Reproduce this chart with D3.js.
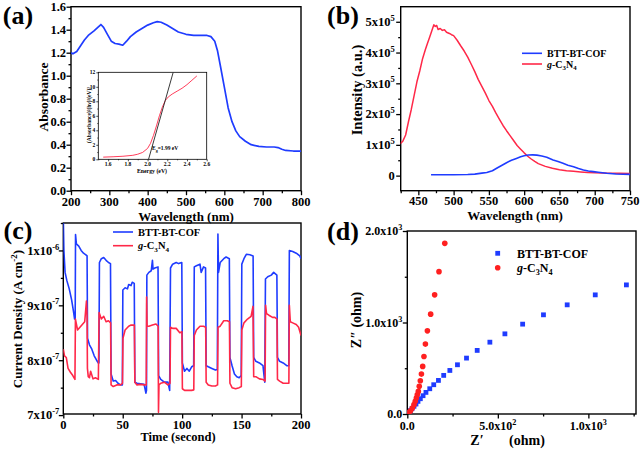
<!DOCTYPE html>
<html><head><meta charset="utf-8">
<script src="https://cdn.jsdelivr.net/npm/d3@7"></script>
<style>
body{margin:0;background:#fff}
svg{display:block}
text{font-family:"Liberation Serif","Times New Roman",serif;font-weight:bold;fill:#000}
</style>
</head><body>
<svg id="chart" width="640" height="449"></svg>
<script>
// ---------- DATA ----------
// (a) UV-vis absorbance
const absWl  = [200,205,215,225,235,245,260,270,278,285,295,305,315,325,335,345,355,370,385,400,415,425,435,450,465,480,500,520,540,555,565,575,582,590,600,610,620,630,640,655,670,690,710,730,740,750,760,780,800];
const absVal = [1.20,1.19,1.21,1.26,1.31,1.35,1.39,1.42,1.445,1.42,1.36,1.30,1.28,1.275,1.265,1.30,1.34,1.38,1.41,1.44,1.46,1.47,1.465,1.44,1.41,1.38,1.36,1.35,1.35,1.35,1.34,1.30,1.22,1.08,0.90,0.72,0.60,0.52,0.47,0.43,0.40,0.385,0.38,0.38,0.375,0.36,0.35,0.345,0.345];
// (a) inset Tauc plot
const taucE = [1.55,1.65,1.75,1.85,1.90,1.95,2.00,2.03,2.06,2.09,2.12,2.15,2.18,2.21,2.25,2.30,2.35,2.40,2.45,2.50];
const taucV = [0.3,0.35,0.42,0.55,0.7,0.95,1.5,2.2,3.3,4.6,6.0,7.2,8.1,8.6,9.0,9.4,9.8,10.3,10.9,11.5];
const taucFitE = [2.01,2.26];
const taucFitV = [0,12];
// (b) PL spectra (x10^5)
const plGWl  = [424,428,432,436,440,444,448,452,456,460,463,466,469,472,474,476,478,481,484,487,490,494,497,500,505,510,515,520,525,530,535,540,545,550,555,560,565,570,575,580,585,590,595,600,605,610,615,620,630,640,650,660,670,680,690,700,720,735,750];
const plGVal = [1.03,1.12,1.32,1.75,2.15,2.60,3.05,3.40,3.80,4.10,4.30,4.50,4.70,4.90,4.85,4.88,4.75,4.78,4.72,4.74,4.66,4.62,4.58,4.55,4.40,4.22,4.05,3.85,3.62,3.38,3.12,2.90,2.68,2.44,2.25,2.03,1.83,1.63,1.46,1.30,1.14,0.98,0.86,0.74,0.63,0.54,0.46,0.39,0.30,0.24,0.19,0.16,0.14,0.12,0.105,0.095,0.08,0.075,0.07];
const plBWl  = [468,480,500,520,530,540,547,555,561,568,575,582,589,595,600,606,612,618,625,632,641,648,655,662,670,677,684,691,698,705,717,730,740,750];
const plBVal = [0.03,0.03,0.03,0.035,0.05,0.08,0.10,0.16,0.24,0.33,0.42,0.50,0.56,0.61,0.645,0.67,0.675,0.665,0.64,0.60,0.51,0.46,0.40,0.34,0.29,0.23,0.18,0.15,0.13,0.11,0.076,0.055,0.045,0.04];
// (c) photocurrent (x10^-7 A cm^-2) : [time, value]
const itBlue = [[0,10.6],[0.5,10.0],[1.5,9.6],[3,9.45],[5,9.3],[7,9.1],[8.5,8.9],[9.5,8.75],[10,8.75],[10.3,10.29],[11,10.12],[13,10.08],[15,10.0],[17,9.95],[19,9.92],[20,9.9],[20.4,8.4],[22,8.28],[24,8.2],[26,8.08],[28,8.0],[29.5,7.95],[30,7.95],[30.4,9.78],[32,9.85],[34,9.87],[36,9.82],[38,9.78],[39.7,9.76],[40.2,7.75],[42,7.62],[44,7.63],[46,7.58],[48,7.55],[49.7,7.55],[50.1,9.28],[52,9.32],[54,9.3],[55,9.38],[57,9.36],[58,9.42],[59.7,9.4],[60.2,7.6],[62,7.58],[65,7.57],[68,7.56],[69.5,7.4],[70,7.45],[70.3,9.55],[72,9.6],[74,9.63],[75,9.82],[75.5,9.66],[77,9.68],[79.7,9.7],[80.2,7.72],[82,7.65],[85,7.6],[88,7.6],[89.5,7.45],[90.2,9.68],[92,9.75],[95,9.78],[97,9.76],[99.7,9.78],[100.2,7.95],[102,7.8],[104,7.85],[106,7.8],[108,7.88],[109.7,7.9],[110.2,9.7],[112,9.72],[115,9.75],[116,9.6],[118,9.7],[119.7,9.68],[120.2,7.9],[122,7.88],[125,7.85],[128,7.82],[129.6,7.83],[130.1,10.3],[130.6,9.6],[132,9.78],[135,9.85],[137,9.88],[139.7,9.85],[140.2,8.05],[142,7.9],[144,7.75],[146,7.7],[148,7.68],[149.7,7.72],[150.2,9.75],[152,9.85],[154,9.93],[157,9.92],[159.7,9.9],[160.2,8.05],[162,7.98],[165,7.95],[168,7.9],[169.5,7.6],[170.1,9.48],[172,9.52],[175,9.55],[177,9.6],[179.7,9.55],[180.2,8.05],[182,7.98],[185,7.95],[188,7.9],[189.7,7.9],[190.2,10.0],[193,9.98],[196,9.95],[199,9.9],[200,9.85]];
const itRed = [[0,8.2],[1,8.08],[2.5,8.05],[4,7.85],[6,7.78],[8,7.72],[9.8,7.65],[10.2,8.75],[12,8.55],[14,8.6],[16,8.65],[18,8.7],[19.5,9.08],[20,8.8],[20.3,7.85],[21,7.7],[22,7.68],[23,7.8],[25,7.66],[27,7.68],[29.5,7.65],[30.1,8.87],[32,8.75],[34,8.8],[36,8.7],[38,8.72],[39.8,8.68],[40.2,7.55],[42,7.52],[45,7.55],[48,7.55],[49.8,7.58],[50.2,8.4],[52,8.55],[55,8.62],[57,8.64],[59.8,8.64],[60.2,7.6],[62,7.55],[65,7.56],[68,7.55],[69.8,7.55],[70.1,9.15],[70.5,8.62],[72,8.62],[75,8.64],[78,8.66],[79.8,8.62],[80.1,7.05],[80.5,7.55],[82,7.58],[85,7.6],[88,7.55],[89.8,7.58],[90.2,8.6],[92,8.58],[95,8.58],[98,8.5],[99.8,8.52],[100.2,7.48],[102,7.45],[105,7.45],[108,7.45],[109.8,7.46],[110.2,8.45],[112,8.55],[115,8.62],[118,8.62],[119.8,8.6],[120.2,7.6],[122,7.55],[125,7.53],[128,7.53],[129.8,7.55],[130.2,8.6],[132,8.62],[135,8.72],[138,8.72],[139.8,8.7],[140.2,7.58],[142,7.5],[145,7.48],[148,7.5],[149.8,7.52],[150.2,8.55],[152,8.68],[155,8.75],[158,8.8],[159.6,8.98],[160.2,7.7],[162,7.7],[165,7.66],[168,7.65],[169.8,7.62],[170.2,9.0],[171,8.85],[173,8.82],[176,8.78],[178,8.78],[179.8,8.75],[180.2,7.65],[182,7.62],[185,7.58],[188,7.58],[189.8,7.58],[190.2,9.0],[191,8.7],[193,8.68],[196,8.65],[198,8.6],[200,8.45]];
// (d) Nyquist plot (ohm)
const nyBlueX = [4,9,17,26,37,48,59,72,87,103,124,146,172,201,235,277,327,386,456,539,637,752,883,1038,1210];
const nyBlueY = [7,18,36,58,84,109,138,167,200,236,276,320,367,422,476,538,611,695,785,876,982,1084,1193,1302,1411];
const nyRedX  = [4,9,18,28,37,44,50,55,61,66,72,78,85,92,100,111,129,151,175,207];
const nyRedY  = [7,18,36,65,102,138,175,211,247,302,364,436,520,629,764,909,1091,1302,1556,1865];
// tick values
const aXTicks=[200,300,400,500,600,700,800], aYTicks=[0,0.2,0.4,0.6,0.8,1.0,1.2,1.4,1.6];
const insXTicks=[1.6,1.8,2.0,2.2,2.4,2.6], insYTicks=[0,2,4,6,8,10,12];
const bXTicks=[450,500,550,600,650,700,750], bYTicks=[0,1,2,3,4,5];
const cXTicks=[0,50,100,150,200], cYTicks=[7,8,9,10];
const dXTicks=[0,500,1000], dYTicks=[0,1000,2000];

// ---------- DRAW ----------
const svg=d3.select("#chart");
const BLUE="#1f3cff", RED="#ff2848";
let clipId=0;

function sup(t, base, exp, fs){
  t.append("tspan").text(base);
  t.append("tspan").attr("dy",-fs*0.42).style("font-size",(fs*0.68)+"px").text(exp);
}
function gcn(t, fs){
  t.append("tspan").style("font-style","italic").text("g");
  t.append("tspan").text("-C");
  t.append("tspan").attr("dy",fs*0.25).style("font-size",(fs*0.68)+"px").text("3");
  t.append("tspan").attr("dy",-fs*0.25).text("N");
  t.append("tspan").attr("dy",fs*0.25).style("font-size",(fs*0.68)+"px").text("4");
}

function panel(o){
  const x=d3.scaleLinear().domain(o.xd).range([o.x0,o.x1]);
  const y=d3.scaleLinear().domain(o.yd).range([o.y1,o.y0]);
  const g=svg.append("g");
  const tw=o.tw||1.3;
  const styleAx=s=>{s.select(".domain").remove(); s.selectAll("line").attr("stroke","#000").attr("stroke-width",tw);};
  if(o.xm) g.append("g").attr("transform",`translate(0,${o.y1})`).call(d3.axisBottom(x).tickValues(o.xm).tickSize(o.mt||2.5).tickFormat("")).call(styleAx);
  g.append("g").attr("transform",`translate(0,${o.y1})`).call(d3.axisBottom(x).tickValues(o.xt).tickSize(o.Mt||4.5).tickFormat("")).call(styleAx);
  if(o.ym) g.append("g").attr("transform",`translate(${o.x0},0)`).call(d3.axisLeft(y).tickValues(o.ym).tickSize(o.mt||2.5).tickFormat("")).call(styleAx);
  g.append("g").attr("transform",`translate(${o.x0},0)`).call(d3.axisLeft(y).tickValues(o.yt).tickSize(o.Mt||4.5).tickFormat("")).call(styleAx);
  o.xt.forEach(v=>{
    const t=g.append("text").attr("x",x(v)).attr("y",o.y1+o.xly).attr("text-anchor","middle").style("font-size",o.fs+"px");
    o.xf(t,v);
  });
  o.yt.forEach(v=>{
    const t=g.append("text").attr("x",o.x0-o.ylx).attr("y",y(v)).attr("dy","0.35em").attr("text-anchor","end").style("font-size",o.fs+"px");
    o.yf(t,v);
  });
  g.append("rect").attr("x",o.x0).attr("y",o.y0).attr("width",o.x1-o.x0).attr("height",o.y1-o.y0)
    .attr("fill","none").attr("stroke","#000").attr("stroke-width",o.fw||1.4);
  const id="clip"+(clipId++);
  svg.append("clipPath").attr("id",id).append("rect").attr("x",o.x0).attr("y",o.y0).attr("width",o.x1-o.x0).attr("height",o.y1-o.y0);
  const plot=g.append("g").attr("clip-path",`url(#${id})`);
  return {g,plot,x,y};
}
function line(plot,x,y,xs,ys,color,w){
  plot.append("path").datum(xs.map((v,i)=>[v,ys[i]]))
    .attr("d",d3.line().x(d=>x(d[0])).y(d=>y(d[1])))
    .attr("fill","none").attr("stroke",color).attr("stroke-width",w||1.6).attr("stroke-linejoin","round");
}
function label(txt,x,y,fs,rot){
  const t=svg.append("text").attr("text-anchor","middle").style("font-size",fs+"px");
  if(rot) t.attr("transform",`translate(${x},${y}) rotate(-90)`); else t.attr("x",x).attr("y",y);
  if(typeof txt==="string") t.text(txt); else txt(t);
  return t;
}
const half=(a,step)=>{const r=[];for(let i=0;i<a.length-1;i++)r.push(a[i]+step);return r;};

// ===== (a) =====
const A=panel({x0:71,x1:301,y0:6.7,y1:190.7,xd:[200,800],yd:[0,1.6],xt:aXTicks,yt:aYTicks,
  xm:half(aXTicks,50),ym:half(aYTicks,0.1),fs:12.5,xly:15.5,ylx:5,
  xf:(t,v)=>t.text(v),yf:(t,v)=>t.text(v.toFixed(1))});
line(A.plot,A.x,A.y,absWl,absVal,BLUE,1.7);
label("Absorbance",48,97,13.5,true);
label("Wavelength (nm)",186,221,13);
label("(a)",18,24,26);
// inset
svg.append("rect").attr("x",98.3).attr("y",72.3).attr("width",108.4).attr("height",87).attr("fill","#fff");
const I=panel({x0:98.3,x1:206.7,y0:72.3,y1:159.3,xd:[1.5,2.6],yd:[0,12],xt:insXTicks,yt:insYTicks,
  xm:[1.5,1.7,1.9,2.1,2.3,2.5],ym:[1,3,5,7,9,11],fs:5.5,xly:7,ylx:3,Mt:2,mt:1,tw:0.7,fw:0.8,
  xf:(t,v)=>t.text(v.toFixed(1)),yf:(t,v)=>t.text(v)});
line(I.plot,I.x,I.y,taucE,taucV,RED,0.9);
line(I.plot,I.x,I.y,taucFitE,taucFitV,"#222",0.9);
svg.append("text").attr("x",152).attr("y",150).style("font-size","5.5px").call(t=>{
  t.append("tspan").text("E");
  t.append("tspan").attr("dy",1.5).style("font-size","4px").text("g");
  t.append("tspan").attr("dy",-1.5).text("=1.99 eV");
});
label("Energy (eV)",152,173,5.8);
label("(Absorbance)²(hν)²(eV)²",91,115,5.5,true);

// ===== (b) =====
const B=panel({x0:400.7,x1:630,y0:6.7,y1:190.7,xd:[425,750],yd:[-0.49,5.49],xt:bXTicks,yt:bYTicks,
  xm:[425,475,525,575,625,675,725],ym:[0.5,1.5,2.5,3.5,4.5],fs:12.5,xly:14.5,ylx:6,
  xf:(t,v)=>t.text(v),yf:(t,v)=>{ if(v===0) t.text("0"); else sup(t,v+"x10","5",12.5);}});
line(B.plot,B.x,B.y,plGWl,plGVal,RED,1.5);
line(B.plot,B.x,B.y,plBWl,plBVal,BLUE,1.6);
label("Intensity (a.u.)",362,90,14.5,true);
label("Wavelength (nm)",515,219.5,13);
label("(b)",343,24,26);
svg.append("line").attr("x1",522).attr("x2",542).attr("y1",53.3).attr("y2",53.3).attr("stroke",BLUE).attr("stroke-width",1.6);
svg.append("line").attr("x1",522).attr("x2",542).attr("y1",64).attr("y2",64).attr("stroke",RED).attr("stroke-width",1.6);
svg.append("text").attr("x",547).attr("y",56.8).style("font-size","10px").text("BTT-BT-COF");
svg.append("text").attr("x",547).attr("y",67.5).style("font-size","10px").call(t=>gcn(t,10));

// ===== (c) =====
const C=panel({x0:63.3,x1:301,y0:223,y1:414,xd:[0,200],yd:[7.02,10.5],xt:cXTicks,yt:cYTicks,
  xm:[25,75,125,175],ym:[7.5,8.5,9.5,10.5],fs:12.5,xly:14.5,ylx:4,
  xf:(t,v)=>t.text(v),yf:(t,v)=>{ if(v===10) sup(t,"1x10","-6",12.5); else sup(t,v+"x10","-7",12.5);}});
line(C.plot,C.x,C.y,itBlue.map(d=>d[0]),itBlue.map(d=>d[1]),BLUE,1.6);
line(C.plot,C.x,C.y,itRed.map(d=>d[0]),itRed.map(d=>d[1]),RED,1.6);
label(t=>{t.append("tspan").text("Current Density (A cm");
  t.append("tspan").attr("dy",-5).style("font-size","9px").text("-2");
  t.append("tspan").attr("dy",5).text(")");},22,319,13,true);
label("Time (second)",178,441,12.5);
label("(c)",18,239,26);
svg.append("line").attr("x1",113).attr("x2",133).attr("y1",232).attr("y2",232).attr("stroke",BLUE).attr("stroke-width",1.6);
svg.append("line").attr("x1",113).attr("x2",133).attr("y1",245.7).attr("y2",245.7).attr("stroke",RED).attr("stroke-width",1.6);
svg.append("text").attr("x",138).attr("y",235.5).style("font-size","10.5px").text("BTT-BT-COF");
svg.append("text").attr("x",138).attr("y",249).style("font-size","10.5px").call(t=>gcn(t,10.5));

// ===== (d) =====
const D=panel({x0:407.3,x1:636,y0:231,y1:414,xd:[0,1263],yd:[0,2000],xt:dXTicks,yt:dYTicks,
  xm:[250,750,1250],ym:[500,1500],fs:12,xly:16,ylx:5,
  xf:(t,v)=>{ if(v===0) t.text("0.0"); else if(v===500) sup(t,"5.0x10","2",12); else sup(t,"1.0x10","3",12);},
  yf:(t,v)=>{ if(v===0) t.text("0.0"); else sup(t,(v/1000).toFixed(1)+"x10","3",12);}});
D.plot.selectAll("rect.bl").data(nyBlueX.map((v,i)=>[v,nyBlueY[i]])).enter().append("rect")
  .attr("x",d=>D.x(d[0])-2.4).attr("y",d=>D.y(d[1])-2.4).attr("width",4.8).attr("height",4.8).attr("fill",BLUE);
D.plot.selectAll("circle.rd").data(nyRedX.map((v,i)=>[v,nyRedY[i]])).enter().append("circle")
  .attr("cx",d=>D.x(d[0])).attr("cy",d=>D.y(d[1])).attr("r",2.8).attr("fill","#ff2020");
label("Z″ (ohm)",361,320,14,true);
label("Z′",477,445,14);
label("(ohm)",527,445,14);
label("(d)",343,240,26);
svg.append("rect").attr("x",495.3).attr("y",250.9).attr("width",4.8).attr("height",4.8).attr("fill",BLUE);
svg.append("circle").attr("cx",497.7).attr("cy",267.7).attr("r",2.8).attr("fill","#ff2020");
svg.append("text").attr("x",517).attr("y",258).style("font-size","12px").text("BTT-BT-COF");
svg.append("text").attr("x",517).attr("y",272).style("font-size","12px").call(t=>gcn(t,12));
</script>
</body></html>
